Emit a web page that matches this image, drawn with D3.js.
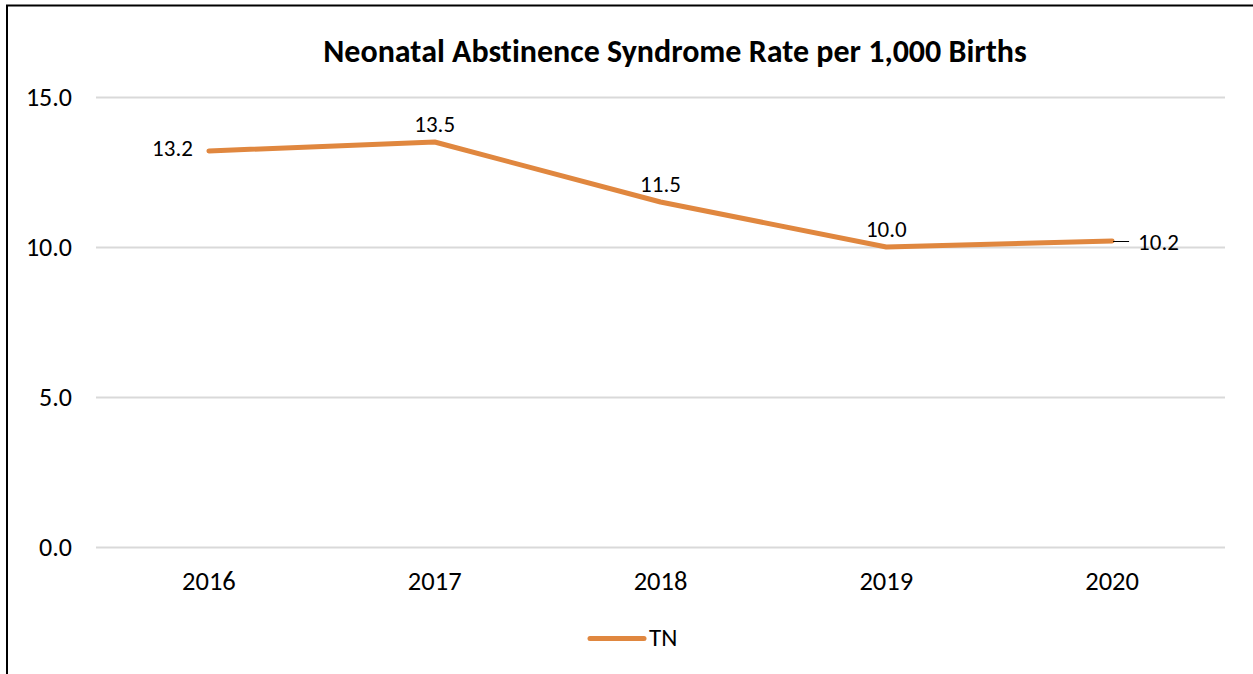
<!DOCTYPE html>
<html>
<head>
<meta charset="utf-8">
<script src="https://cdn.jsdelivr.net/npm/d3@7"></script>
<style>
  body { margin: 0; background: #fff; }
  text { font-family: Carlito, Calibri, "Open Sans", sans-serif; fill: #000; font-variant-ligatures: none; }
</style>
</head>
<body>
<div id="chart"></div>
<script>
// NAS rate line chart

const years = ["2016", "2017", "2018", "2019", "2020"];
const tnRates = [13.2, 13.5, 11.5, 10.0, 10.2];
const yTicks = [0, 5, 10, 15];
const seriesName = "TN";
const title = "Neonatal Abstinence Syndrome Rate per 1,000 Births";

const width = 1253,
      height = 674,
      margin = ({top: 97, right: 28, bottom: 127, left: 96});

const lineColor = "#E0873F";
const fontFam = "Carlito, Calibri, 'Open Sans', sans-serif";

let data = years.map((y, i) => ({year: y, value: tnRates[i]}));

let svg = d3.select("#chart")
    .append("svg")
    .attr("width", width)
    .attr("height", height)
    .attr("viewBox", [0, 0, width, height]);

// outer frame (cut off at right and bottom)
svg.append("rect")
    .attr("x", 7)
    .attr("y", 5.5)
    .attr("width", width + 10)
    .attr("height", height + 10)
    .attr("fill", "none")
    .attr("stroke", "#000")
    .attr("stroke-width", 2);

let x = d3.scaleBand()
    .domain(years)
    .range([margin.left, width - margin.right]);

let y = d3.scaleLinear()
    .domain([0, 15])
    .range([height - margin.bottom, margin.top]);

// gridlines + y labels
const yAxis = g => g
    .attr("transform", `translate(${margin.left},0)`)
    .call(d3.axisLeft(y).tickValues(yTicks).tickFormat(d3.format(".1f"))
        .tickSize(-(width - margin.left - margin.right)).tickPadding(24))
    .call(g => g.select(".domain").remove())
    .call(g => g.selectAll(".tick line").attr("stroke", "#d9d9d9").attr("stroke-width", 2))
    .call(g => g.selectAll(".tick text").attr("font-size", 26).attr("fill", "#000")
        .style("font-family", fontFam));

const xAxis = g => g
    .attr("transform", `translate(0,${height - margin.bottom})`)
    .call(d3.axisBottom(x).tickSize(0).tickPadding(24.5))
    .call(g => g.select(".domain").remove())
    .call(g => g.selectAll(".tick text").attr("font-size", 26.5).attr("fill", "#000")
        .style("font-family", fontFam));

svg.append("g").call(yAxis);
svg.append("g").call(xAxis);

// title
svg.append("text")
    .attr("x", 675)
    .attr("y", 62)
    .attr("text-anchor", "middle")
    .attr("font-size", 32)
    .attr("font-weight", "bold")
    .text(title);

const cx = d => x(d.year) + x.bandwidth() / 2;

let line = d3.line()
    .x(cx)
    .y(d => y(d.value));

svg.append("path")
    .datum(data)
    .attr("fill", "none")
    .attr("stroke", lineColor)
    .attr("stroke-width", 5)
    .attr("stroke-linecap", "round")
    .attr("stroke-linejoin", "round")
    .attr("d", line);

// data labels: first on the left, last on the right with leader, rest above
let labels = svg.append("g").attr("font-size", 23);

data.forEach((d, i) => {
    let px = cx(d), py = y(d.value);
    let t = labels.append("text").text(d3.format(".1f")(d.value));
    if (i === 0) {
        t.attr("x", px - 16).attr("y", py + 5).attr("text-anchor", "end");
    } else if (i === data.length - 1) {
        labels.append("line")
            .attr("x1", px + 1).attr("x2", px + 17)
            .attr("y1", py + 0.5).attr("y2", py + 0.5)
            .attr("stroke", "#000").attr("stroke-width", 1);
        t.attr("x", px + 26).attr("y", py + 9).attr("text-anchor", "start");
    } else {
        t.attr("x", px).attr("y", py - 10).attr("text-anchor", "middle");
    }
});

// legend
let legend = svg.append("g").attr("transform", `translate(590,638.5)`);
legend.append("line")
    .attr("x1", 0).attr("x2", 54)
    .attr("stroke", lineColor)
    .attr("stroke-width", 5)
    .attr("stroke-linecap", "round");
legend.append("text")
    .attr("x", 59)
    .attr("y", 7.5)
    .attr("font-size", 25)
    .text(seriesName);
</script>
</body>
</html>
